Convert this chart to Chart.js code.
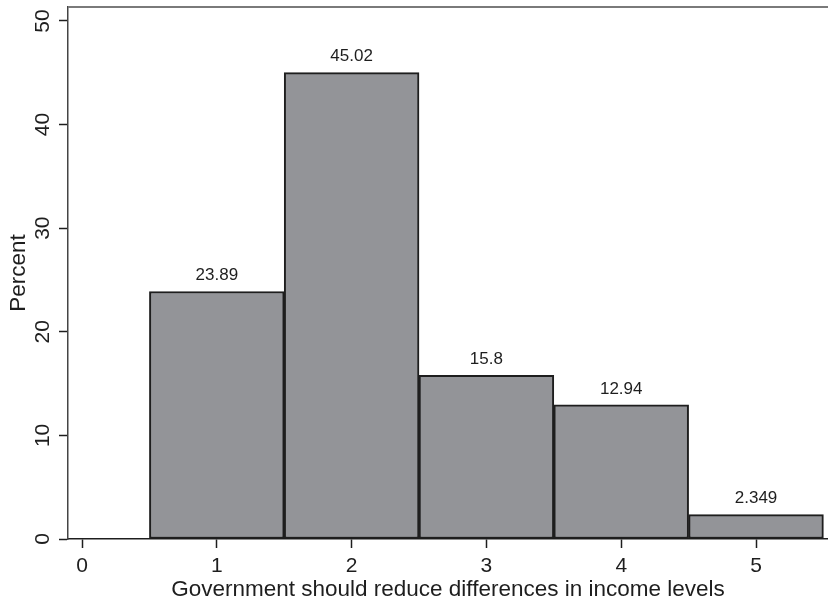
<!DOCTYPE html>
<html>
<head>
<meta charset="utf-8">
<script src="https://cdn.jsdelivr.net/npm/chart.js@4.4.1/dist/chart.umd.min.js"></script>
<style>
  html, body { margin: 0; padding: 0; background: #fff; }
  #wrap { width: 828px; height: 605px; position: relative; }
</style>
</head>
<body>
<div id="wrap"><canvas id="hist"></canvas></div>
<script>
const categories = [1, 2, 3, 4, 5];
const percents = [23.89, 45.02, 15.8, 12.94, 2.349];
const valueLabels = ["23.89", "45.02", "15.8", "12.94", "2.349"];
const xTicks = [0, 1, 2, 3, 4, 5];
const yTicks = [0, 10, 20, 30, 40, 50];

const FONT = "'Liberation Sans', Arial, Helvetica, sans-serif";
const INK = "#1e1e1e";

// rotated y tick labels, bar value labels, top frame line
const extras = {
  id: "extras",
  afterDraw(chart) {
    const ctx = chart.ctx;
    const y = chart.scales.y;
    const area = chart.chartArea;
    ctx.save();

    ctx.strokeStyle = "#7a7a7a";
    ctx.lineWidth = 2;
    ctx.beginPath();
    ctx.moveTo(area.left, area.top);
    ctx.lineTo(chart.width, area.top);
    ctx.stroke();

    ctx.fillStyle = INK;
    ctx.font = "21px " + FONT;
    ctx.textAlign = "center";
    ctx.textBaseline = "middle";
    yTicks.forEach(v => {
      ctx.save();
      ctx.translate(43, y.getPixelForValue(v));
      ctx.rotate(-Math.PI / 2);
      ctx.fillText(String(v), 0, 0);
      ctx.restore();
    });

    ctx.font = "17px " + FONT;
    const meta = chart.getDatasetMeta(0);
    meta.data.forEach((bar, i) => {
      ctx.fillText(valueLabels[i], bar.x, bar.y - 16);
    });
    ctx.restore();
  }
};

new Chart(document.getElementById("hist"), {
  type: "bar",
  data: {
    datasets: [{
      data: categories.map((c, i) => ({ x: c, y: percents[i] })),
      backgroundColor: "#939498",
      borderColor: INK,
      borderWidth: 2,
      borderSkipped: false,
      barPercentage: 1,
      categoryPercentage: 1
    }]
  },
  options: {
    responsive: true,
    maintainAspectRatio: false,
    animation: false,
    layout: { padding: { top: 7, right: 0, left: 0, bottom: 0 } },
    plugins: {
      legend: { display: false },
      tooltip: { enabled: false }
    },
    scales: {
      x: {
        type: "linear",
        offset: false,
        min: -0.104,
        max: 5.534,
        afterBuildTicks: s => { s.ticks = xTicks.map(v => ({ value: v })); },
        afterFit: s => { s.height = 66; },
        grid: { offset: false, drawOnChartArea: false, tickLength: 9, tickColor: INK, tickWidth: 1.5 },
        border: { display: true, color: INK, width: 1.5 },
        ticks: { color: INK, font: { family: FONT, size: 21 }, padding: 6, maxRotation: 0 },
        title: {
          display: true,
          text: "Government should reduce differences in income levels",
          color: INK,
          font: { family: FONT, size: 22.5 },
          padding: { top: 0, bottom: 1.5 }
        }
      },
      y: {
        min: 0,
        max: 51.35,
        afterBuildTicks: s => { s.ticks = yTicks.map(v => ({ value: v })); },
        afterFit: s => { s.width = 68; s.paddingTop = 0; s.paddingBottom = 0; },
        grid: { drawOnChartArea: false, tickLength: 9, tickColor: INK, tickWidth: 1.5 },
        border: { display: true, color: "#444", width: 1.5 },
        ticks: { color: "transparent", font: { size: 1 } },
        title: {
          display: true,
          text: "Percent",
          color: INK,
          font: { family: FONT, size: 22.5 },
          padding: { top: 5.5, bottom: 0 }
        }
      }
    }
  },
  plugins: [extras]
});
</script>
</body>
</html>
